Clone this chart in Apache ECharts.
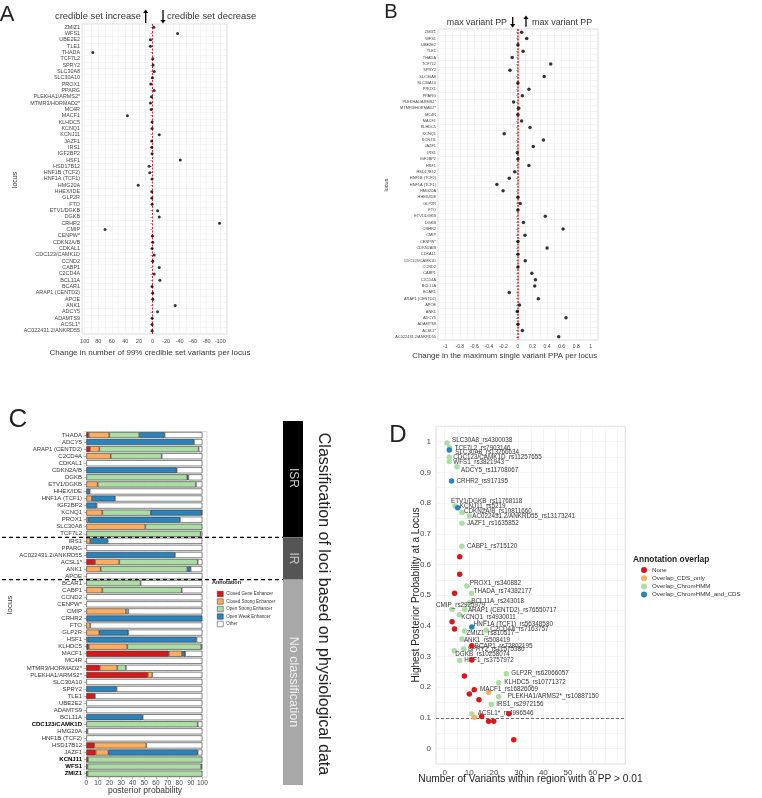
<!DOCTYPE html>
<html><head><meta charset="utf-8">
<script src="https://cdn.jsdelivr.net/npm/echarts@6/dist/echarts.min.js"></script>
<style>html,body{margin:0;padding:0;background:#fff}#c{width:762px;height:798px}</style>
</head><body><div id="c"></div>
<script>
// ---------- DATA ----------
const lociAB = ['ZMIZ1','WFS1','UBE2E2','TLE1','THADA','TCF7L2','SPRY2','SLC30A8','SLC30A10','PROX1','PPARG','PLEKHA1/ARMS2*','MTMR3/HORMAD2*','MC4R','MACF1','KLHDC5','KCNQ1','KCNJ11','JAZF1','IRS1','IGF2BP2','HSF1','HSD17B12','HNF1B (TCF2)','HNF1A (TCF1)','HMG20A','HHEX/IDE','GLP2R','FTO','ETV1/DGKB','DGKB','CRHR2','CMIP','CENPW*','CDKN2A/B','CDKAL1','CDC123/CAMK1D','CCND2','CABP1','C2CD4A','BCL11A','BCAR1','ARAP1 (CENTD2)','APOE','ANK1','ADCY5','ADAMTS9','ACSL1*','AC022431.2/ANKRD55'];
const changeCredibleSet = [-2,-37,3,3,88,-0.5,-1,-2.5,0,2.5,-2.5,1.5,3,2,37,0.5,0.5,-10,1,1,0.5,-41,5,4,0.5,21,1,1,0.5,-7.5,-10,-99,70,0,-0.5,0.5,-2.5,-0.5,-10,-2.5,-11,0.5,-0.5,-0.5,-33.5,-7.5,0.5,0.5,0.5];
const changeMaxPP = [0.05,0.12,0,0.07,-0.08,0.45,-0.11,0.36,0,0.15,0.06,-0.06,0.01,0,0.05,0.165,-0.19,0.35,0.21,-0.01,0,0.15,-0.045,-0.12,-0.29,-0.205,0,0.03,0,0.375,0.075,0.62,0.096,0,0.40,0,0.10,0,0.19,0.24,0.23,-0.12,0.28,0.02,-0.01,0.66,0,0.06,0.56];

const lociC = ['THADA','ADCY5','ARAP1 (CENTD2)','C2CD4A','CDKAL1','CDKN2A/B','DGKB','ETV1/DGKB','HHEX/IDE','HNF1A (TCF1)','IGF2BP2','KCNQ1','PROX1','SLC30A8','TCF7L2','IRS1','PPARG','AC022431.2/ANKRD55','ACSL1*','ANK1','APOE','BCAR1','CABP1','CCND2','CENPW*','CMIP','CRHR2','FTO','GLP2R','HSF1','KLHDC5','MACF1','MC4R','MTMR3/HORMAD2*','PLEKHA1/ARMS2*','SLC30A10','SPRY2','TLE1','UBE2E2','ADAMTS9','BCL11A','CDC123/CAMK1D','HMG20A','HNF1B (TCF2)','HSD17B12','JAZF1','KCNJ11','WFS1','ZMIZ1'];
const boldC = ['CDC123/CAMK1D','KCNJ11','WFS1','ZMIZ1'];
const annotationNames = ['Closed Gene Enhancer','Closed Strong Enhancer','Open Strong Enhancer','Open Weak Enhancer','Other'];
const closedGene   = [2,0,3.2,0,0,0,0,0,0,0,0,0,0,0,0,0,0,0,7.5,0,0,0,0,0,0,0,0,0,0,0,2,71,0,11.5,52.9,0,0,7.5,0,0,0,0,0,0,6.9,8,1.4,1,1];
const closedStrong = [17.8,0,8,21,0,0,0,9.8,0,4.9,0,13.8,1.7,50.9,0,3.4,0,0,20.9,12.4,0,0,13.8,0,0,34.2,0,3.4,11.2,0,33.3,11.5,0,15.2,4,0,0,0,0,0,0,0,0,0,44.8,11,0,0,0];
const openStrong   = [25.9,0,85.6,44,0,0,87,84.7,0,0,0,41.7,0,49.1,98.6,0,0,0,67.6,74.7,0,46.8,68.4,0,0,2,0,0,0,1,63.8,1.1,0,7.5,0,0,0,0,0,0,0,96,0,0,0,0,98.6,98,99];
const openWeak     = [21.8,92.8,0,0,0,77.9,1,0,2.9,19.8,8.9,43.9,79,0,0,15,0,76.4,0,2.8,0,0,0,0,0,0,100,0,25,94,0,1.7,0,0,0,0,26.1,0,0,0,48.6,0,1,0,0,77,0,0,0];
const otherAnn     = [32.5,7.2,3.2,35,100,22.1,12,5.5,97.1,75.3,91.1,0.6,19.3,0,1.4,81.6,100,23.6,4,10.1,100,53.2,17.8,100,100,63.8,0,96.6,63.8,5,0.9,14.7,100,65.8,43.1,100,73.9,92.5,100,100,51.4,4,99,100,48.3,4,0,1,0];

const dLabels = ['SLC30A8_rs4300038','TCF7L2_rs7903146','SLC30A8_rs13266634','CDC123/CAMK1D_rs11257655','WFS1_rs3821943','ADCY5_rs11708067','CRHR2_rs917195','ETV1/DGKB_rs11768118','KCNJ11_rs5219','CDKN2A/B_rs10811660','AC022431.2/ANKRD55_rs13173241','JAZF1_rs1635852','CABP1_rs715120','','','PROX1_rs340882','THADA_rs74382177','','BCL11A_rs243018','CMIP_rs2925979','ARAP1 (CENTD2)_rs76550717','KCNQ1_rs4930011','','HNF1A (TCF1)_rs56348580','C2CD4A_rs7163757','','ZMIZ1_rs810517','ANK1_rs508419','BCAR1_rs72802195','SPRY2_rs11575380','DGKB_rs10258074','','HSF1_rs3757972','','GLP2R_rs62066057','KLHDC5_rs10771372','MACF1_rs16826069','','','PLEKHA1/ARMS2*_rs10887150','','IRS1_rs2972156','ACSL1*_rs4996546','','','','','',''];
const dNumVariants = [1.0,2.0,1.9,1.9,1.9,5.0,2.8,4.2,5.3,7.0,10.0,7.0,7.0,6.1,6.1,9.0,10.9,4.0,10.0,3.0,8.2,5.9,3.0,11.0,16.9,4.0,8.0,7.0,11.0,7.7,3.9,11.0,6.1,8.0,25.0,21.9,12.0,17.8,10.0,21.9,13.9,18.9,11.0,26.0,12.0,15.0,17.8,19.9,28.0];
const dHighestPP = [0.996,0.98,0.973,0.949,0.935,0.918,0.872,0.790,0.785,0.769,0.758,0.734,0.659,0.625,0.568,0.530,0.506,0.506,0.475,0.454,0.454,0.436,0.413,0.396,0.386,0.390,0.383,0.357,0.335,0.325,0.319,0.289,0.287,0.237,0.244,0.215,0.192,0.184,0.178,0.169,0.159,0.145,0.113,0.114,0.102,0.105,0.089,0.089,0.029];
const dOverlap = ['Overlap_ChromHMM','Overlap_ChromHMM','Overlap_ChromHMM_and_CDS','Overlap_ChromHMM','Overlap_ChromHMM','Overlap_ChromHMM','Overlap_ChromHMM_and_CDS','Overlap_ChromHMM','Overlap_ChromHMM_and_CDS','Overlap_ChromHMM','Overlap_ChromHMM','Overlap_ChromHMM','Overlap_ChromHMM','None','None','Overlap_ChromHMM','Overlap_ChromHMM','None','Overlap_ChromHMM','Overlap_ChromHMM','Overlap_ChromHMM','Overlap_ChromHMM','None','Overlap_ChromHMM_and_CDS','Overlap_ChromHMM','None','Overlap_ChromHMM','Overlap_ChromHMM','None','Overlap_ChromHMM','Overlap_ChromHMM','None','Overlap_ChromHMM','None','Overlap_ChromHMM','Overlap_ChromHMM','None','Overlap_CDS_only','None','Overlap_ChromHMM','None','Overlap_ChromHMM','Overlap_ChromHMM','None','Overlap_CDS_only','None','None','None','None'];
const overlapNames = ['None','Overlap_CDS_only','Overlap_ChromHMM','Overlap_ChromHMM_and_CDS'];

// ---------- STYLE ----------
const FONT = 'Liberation Sans, Arial, sans-serif';
const annColors = ['#d7191c','#fdae61','#abdda4','#2b83ba','#ffffff'];
const ovColors = {'None':'#d7191c','Overlap_CDS_only':'#fdae61','Overlap_ChromHMM':'#abdda4','Overlap_ChromHMM_and_CDS':'#2b83ba'};
// label nudges (pixels) for the repelled text labels in panel D
const labelNudge = {
 'SLC30A8_rs4300038':[5,-3],'TCF7L2_rs7903146':[5,0],'SLC30A8_rs13266634':[6,2],'CDC123/CAMK1D_rs11257655':[4,0],
 'WFS1_rs3821943':[4,1],'ADCY5_rs11708067':[4,3],'CRHR2_rs917195':[5,0],'ETV1/DGKB_rs11768118':[-4,-5],
 'KCNJ11_rs5219':[2,-1],'CDKN2A/B_rs10811660':[2,-1],'AC022431.2/ANKRD55_rs13173241':[3,0],'JAZF1_rs1635852':[5,0],
 'CABP1_rs715120':[5,0],'PROX1_rs340882':[3,-3],'THADA_rs74382177':[2,-2],'BCL11A_rs243018':[2,-2],
 'CMIP_rs2925979':[-16,-3.6],'ARAP1 (CENTD2)_rs76550717':[3,1],'KCNQ1_rs4930011':[2,2],'HNF1A (TCF1)_rs56348580':[2,-3],
 'C2CD4A_rs7163757':[4,-1],'ZMIZ1_rs810517':[2,2],'ANK1_rs508419':[2,1],'BCAR1_rs72802195':[3,0],
 'SPRY2_rs11575380':[4,0],'DGKB_rs10258074':[1,4],'HSF1_rs3757972':[4.6,-0.7],'GLP2R_rs62066057':[5,0],
 'KLHDC5_rs10771372':[5.5,0],'MACF1_rs16826069':[5.7,-0.4],'PLEKHA1/ARMS2*_rs10887150':[9,-0.7],'IRS1_rs2972156':[5,0],
 'ACSL1*_rs4996546':[6,-0.7]
};

const chart = echarts.init(document.getElementById('c'), null, {renderer:'canvas'});
const gridBase = {show:true, backgroundColor:'#fff', borderColor:'#d2d2d2', borderWidth:0.8, containLabel:false, outerBoundsMode:'none'};
const faint = {show:true, lineStyle:{color:'#ededed', width:0.6}};

const catAxis = (idx, data, fs) => ({
  type:'category', gridIndex:idx, data:data, inverse:true,
  axisLine:{show:false}, axisTick:{show:true, length:2, alignWithLabel:true, lineStyle:{color:'#555', width:0.5}},
  axisLabel:{interval:0, fontSize:fs, color:'#444', fontFamily:FONT, margin:2},
  splitLine:faint
});

const series = [];
series.push({type:'scatter', xAxisIndex:0, yAxisIndex:0, data:changeCredibleSet.map((v,i)=>[v, lociAB[i]]),
  symbolSize:3, itemStyle:{color:'#000'}, silent:true, z:5,
  markLine:{silent:true, symbol:'none', label:{show:false}, lineStyle:{color:'#e3262d', type:[2,1.5], width:1}, data:[{xAxis:0}]}});
series.push({type:'scatter', xAxisIndex:1, yAxisIndex:1, data:changeMaxPP.map((v,i)=>[v, lociAB[i]]),
  symbolSize:3.5, itemStyle:{color:'#000'}, silent:true, z:5,
  markLine:{silent:true, symbol:'none', label:{show:false}, lineStyle:{color:'#e3262d', type:[2,1.2], width:1.6}, data:[{xAxis:0}]}});
const annArrays = [closedGene, closedStrong, openStrong, openWeak, otherAnn];
annArrays.forEach((arr, k) => {
  series.push({type:'bar', name:annotationNames[k], xAxisIndex:2, yAxisIndex:2, stack:'ann', barWidth:'86%',
    data:arr.map(v => v > 0 ? v : null),
    itemStyle:{color:annColors[k], borderColor:'#333', borderWidth:0.6}, silent:true});
});
overlapNames.forEach((cat, k) => {
  const data = [];
  dOverlap.forEach((c, i) => {
    if (c !== cat) return;
    const lab = dLabels[i];
    const nudge = labelNudge[lab] || [4,0];
    data.push({name:lab, value:[dNumVariants[i], dHighestPP[i]],
      label:{show: lab !== '', formatter:'{b}', position:'right', distance:0, offset:[nudge[0]-2.75, nudge[1]],
             fontSize:6.3, color:'#333', fontFamily:FONT}});
  });
  const s = {type:'scatter', name:cat, xAxisIndex:3, yAxisIndex:3, data:data, symbolSize:5.5,
    itemStyle:{color:ovColors[cat], opacity:1}, silent:true, z:5 + (cat==='None'?1:0)};
  if (k === 0) s.markLine = {silent:true, symbol:'none', label:{show:false}, lineStyle:{color:'#444', type:[3,2], width:0.8}, data:[{yAxis:0.1}]};
  series.push(s);
});

const option = {
  animation:false,
  backgroundColor:'#fff',
  textStyle:{fontFamily:FONT},
  grid:[
    Object.assign({left:82, top:24, width:145, height:310}, gridBase),
    Object.assign({left:438, top:29, width:160, height:311}, gridBase),
    Object.assign({left:84, top:431.5, width:123, height:345.7}, gridBase),
    Object.assign({left:436, top:426.3, width:189.3, height:337.7}, gridBase)
  ],
  xAxis:[
    {type:'value', gridIndex:0, inverse:true, min:-110, max:104, interval:10,
     axisLine:{show:false}, axisTick:{show:false}, splitLine:faint,
     axisLabel:{fontSize:5.5, color:'#444', fontFamily:FONT, margin:4,
       formatter:v => (Math.round(v)%20===0 && Math.abs(v)<=100) ? String(Math.round(v)) : ''}},
    {type:'value', gridIndex:1, min:-1.1, max:1.1, interval:0.1,
     axisLine:{show:false}, axisTick:{show:false}, splitLine:faint,
     axisLabel:{fontSize:5, color:'#444', fontFamily:FONT, margin:4,
       formatter:v => {const k=Math.round(v*10); return (k%2===0 && Math.abs(k)<=10) ? String(k/10) : '';}}},
    {type:'value', gridIndex:2, min:-2, max:104,
     axisLine:{show:false}, splitLine:{show:true, lineStyle:{color:'#f1f1f1', width:0.6}},
     axisTick:{show:true, length:2, lineStyle:{color:'#555', width:0.5}, customValues:[0,10,20,30,40,50,60,70,80,90,100]},
     axisLabel:{fontSize:6.5, color:'#444', fontFamily:FONT, margin:3, customValues:[0,10,20,30,40,50,60,70,80,90,100]}},
    {type:'value', gridIndex:3, min:-3.5, max:73.2,
     axisLine:{show:false}, splitLine:faint,
     axisTick:{show:false, customValues:[0,5,10,15,20,25,30,35,40,45,50,55,60,65,70]},
     axisLabel:{fontSize:8, color:'#444', fontFamily:FONT, margin:5, customValues:[0,10,20,30,40,50,60]}}
  ],
  yAxis:[
    catAxis(0, lociAB, 5.4),
    catAxis(1, lociAB, 3.9),
    Object.assign(catAxis(2, lociC, 6), {splitLine:{show:false},
      axisLabel:{interval:0, fontSize:6, color:'#333', fontFamily:FONT, margin:2,
        formatter:v => boldC.includes(v) ? '{b|'+v+'}' : v,
        rich:{b:{fontWeight:'bold', fontSize:6, color:'#000', fontFamily:FONT}}}}),
    {type:'value', gridIndex:3, min:-0.05, max:1.05, interval:0.05,
     axisLine:{show:false}, axisTick:{show:false}, splitLine:faint,
     axisLabel:{fontSize:8, color:'#444', fontFamily:FONT, margin:5,
       formatter:v => {const k=Math.round(v*100); return (k%10===0 && k>=0 && k<=100) ? String(k/100) : '';}}}
  ],
  legend:[
    {data:annotationNames, orient:'vertical', left:212, top:586, itemWidth:6, itemHeight:5.5, itemGap:1.5,
     icon:'rect', selectedMode:false,
     itemStyle:{borderColor:'#333', borderWidth:0.5},
     textStyle:{fontSize:4.5, color:'#333', fontFamily:FONT, padding:[0,0,0,-2]}},
    {data:overlapNames, orient:'vertical', left:636, top:562, itemWidth:6, itemHeight:6, itemGap:2.2,
     icon:'circle', selectedMode:false,
     textStyle:{fontSize:6.2, color:'#333', fontFamily:FONT}}
  ],
  series:series
};
chart.setOption(option);

// ---------- annotations ----------
const T = (x, y, text, size, opt) => Object.assign({type:'text', x:x, y:y, silent:true,
  style:Object.assign({text:text, fill:'#222', font: (opt && opt.weight ? opt.weight+' ' : '') + size+'px '+FONT,
    textAlign:(opt && opt.align)||'center', textVerticalAlign:'middle'}, (opt && opt.style)||{})},
  (opt && opt.rotation!==undefined) ? {rotation:opt.rotation} : {});
const arrow = (x, yFrom, yTo) => {
  const dir = yTo < yFrom ? -1 : 1;
  return [
    {type:'line', silent:true, shape:{x1:x, y1:yFrom, x2:x, y2:yTo - dir*3}, style:{stroke:'#000', lineWidth:1.3}},
    {type:'polygon', silent:true, shape:{points:[[x-2.6, yTo - dir*3.6],[x+2.6, yTo - dir*3.6],[x, yTo]]}, style:{fill:'#000'}}
  ];
};
const yC = name => chart.convertToPixel({yAxisIndex:2}, name);
const sep1 = (yC('TCF7L2') + yC('IRS1'))/2;
const sep2 = (yC('APOE') + yC('BCAR1'))/2;

const graphics = [
  T(7, 15, 'A', 22, {align:'center'}),
  T(391, 12, 'B', 20),
  T(18, 420, 'C', 26),
  T(398, 435, 'D', 24),
  T(141, 16.7, 'credible set increase', 9.4, {align:'right', style:{fill:'#333'}}),
  T(167, 16.7, 'credible set decrease', 9.4, {align:'left', style:{fill:'#333'}}),
  ...arrow(145.7, 23, 9.5),
  ...arrow(163, 10, 23.5),
  T(507, 22.7, 'max variant PP', 8.9, {align:'right', style:{fill:'#333'}}),
  T(532, 22.7, 'max variant PP', 8.9, {align:'left', style:{fill:'#333'}}),
  ...arrow(512.7, 17, 27.5),
  ...arrow(526, 26.7, 15.5),
  T(150, 353, 'Change in number of 99% credible set variants per locus', 8, {style:{fill:'#333'}}),
  T(504.7, 356, 'Change in the maximum single variant PPA per locus', 7.85, {style:{fill:'#333'}}),
  T(15, 180, 'locus', 7, {rotation:Math.PI/2, style:{fill:'#333'}}),
  T(386, 185, 'locus', 5.5, {rotation:Math.PI/2, style:{fill:'#333'}}),
  T(10, 605, 'locus', 8, {rotation:Math.PI/2, style:{fill:'#333'}}),
  T(145, 791, 'posterior probability', 8.5, {style:{fill:'#333'}}),
  T(530.5, 779, 'Number of Variants within region with a PP > 0.01', 10.2, {style:{fill:'#222'}}),
  T(416, 595, 'Highest Posterior Probability at a Locus', 10, {rotation:Math.PI/2, style:{fill:'#222'}}),
  T(212, 582, 'Annotation', 5.5, {align:'left', weight:'bold', style:{fill:'#222'}}),
  T(633, 560, 'Annotation overlap', 8.4, {align:'left', weight:'bold', style:{fill:'#222'}}),
  {type:'line', silent:true, shape:{x1:2, y1:sep1, x2:283, y2:sep1}, style:{stroke:'#000', lineWidth:1.2, lineDash:[4,3]}},
  {type:'line', silent:true, shape:{x1:2, y1:sep2, x2:283, y2:sep2}, style:{stroke:'#000', lineWidth:1.2, lineDash:[4,3]}},
  {type:'rect', silent:true, shape:{x:283, y:421, width:20, height:sep1-421}, style:{fill:'#000'}},
  {type:'rect', silent:true, shape:{x:283, y:sep1, width:20, height:sep2-sep1}, style:{fill:'#555'}},
  {type:'rect', silent:true, shape:{x:283, y:sep2, width:20, height:785-sep2}, style:{fill:'#a8a8a8'}},
  T(293, 478, 'ISR', 12, {rotation:-Math.PI/2, style:{fill:'#ccc'}}),
  T(293, (sep1+sep2)/2, 'IR', 12, {rotation:-Math.PI/2, style:{fill:'#ccc'}}),
  T(293, 682, 'No classification', 12.5, {rotation:-Math.PI/2, style:{fill:'#eee'}}),
  T(323, 604, 'Classification of loci based on physiological data', 16, {rotation:-Math.PI/2, style:{fill:'#222'}})
];
chart.setOption({graphic:graphics});
</script>
</body></html>
